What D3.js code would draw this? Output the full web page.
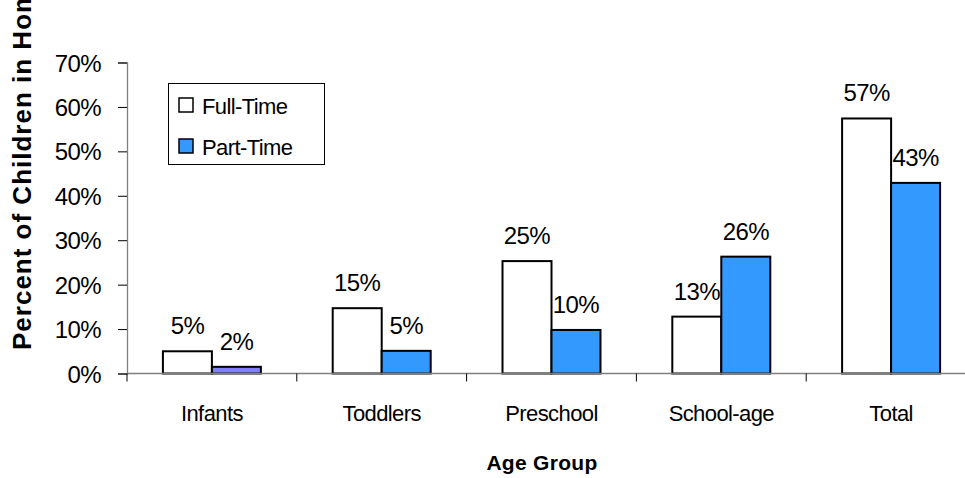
<!DOCTYPE html>
<html>
<head>
<meta charset="utf-8">
<script src="https://cdn.jsdelivr.net/npm/d3@7"></script>
<style>
  html, body { margin: 0; padding: 0; background: #fff; overflow: hidden; }
  svg { display: block; font-family: "Liberation Sans", Arial, sans-serif; }
</style>
</head>
<body>
<svg id="chart" width="965" height="478"></svg>
<script>
const categories = ["Infants", "Toddlers", "Preschool", "School-age", "Total"];
const seriesNames = ["Full-Time", "Part-Time"];
const fullTime = [5, 14.7, 25.3, 12.8, 57.4];
const partTime = [1.5, 5.1, 9.8, 26.3, 42.9];
const yTicks = [0, 10, 20, 30, 40, 50, 60, 70];
const yTitle = "Percent of Children in Home Care";
const xTitle = "Age Group";

const svg = d3.select("#chart");
const plotLeft = 127, plotRight = 976, plotTop = 62.5, plotBottom = 373.5;
const axisColor = "#808080";
const fills = { "Full-Time": "#ffffff", "Part-Time": "#3399ff" };
const specialFill = "#8080ff"; // infants part-time bar

const x = d3.scaleBand().domain(categories).range([plotLeft, plotRight]).paddingInner(0).paddingOuter(0);
const xs = d3.scaleBand().domain(seriesNames).range([0, x.bandwidth()]).paddingInner(0).paddingOuter(0.733);
const y = d3.scaleLinear().domain([0, 70]).range([plotBottom, plotTop]);

const rows = categories.map((c, i) => ({ cat: c, vals: [
  { s: "Full-Time", v: fullTime[i], i },
  { s: "Part-Time", v: partTime[i], i }
]}));

// Y axis
const yAxis = d3.axisLeft(y).tickValues(yTicks).tickSize(9).tickPadding(17)
  .tickFormat(d => d + "%");
const gy = svg.append("g").attr("transform", `translate(${plotLeft},0)`).call(yAxis);
gy.select(".domain").attr("stroke", axisColor).attr("stroke-width", 1.3);
gy.selectAll(".tick line").attr("stroke", "#000").attr("stroke-width", 1);
gy.selectAll(".tick text").attr("fill", "#000").style("font-size", "24px")
  .style("letter-spacing", "-0.6px").attr("dy", "0.36em");

// Bars
const groups = svg.append("g").selectAll("g").data(rows).join("g")
  .attr("transform", d => `translate(${x(d.cat)},0)`);
groups.selectAll("rect").data(d => d.vals).join("rect")
  .attr("x", d => xs(d.s))
  .attr("width", xs.bandwidth())
  .attr("y", d => y(d.v))
  .attr("height", d => y(0) - y(d.v))
  .attr("fill", d => (d.s === "Part-Time" && d.i === 0) ? specialFill : fills[d.s])
  .attr("stroke", "#000").attr("stroke-width", 2);

// X axis
const xTickPositions = d3.range(categories.length + 1).map(k => plotLeft + k * x.step());
svg.append("line").attr("x1", plotLeft).attr("x2", plotRight).attr("y1", plotBottom).attr("y2", plotBottom)
  .attr("stroke", axisColor).attr("stroke-width", 1.3);
svg.append("g").selectAll("line").data(xTickPositions).join("line")
  .attr("x1", d => d).attr("x2", d => d).attr("y1", plotBottom).attr("y2", plotBottom + 8)
  .attr("stroke", "#000").attr("stroke-width", 1);
svg.append("g").selectAll("text").data(categories).join("text")
  .attr("x", d => x(d) + x.bandwidth() / 2).attr("y", 421)
  .attr("text-anchor", "middle").style("font-size", "22px").style("letter-spacing", "-0.6px")
  .text(d => d);

// Data labels
groups.selectAll("text").data(d => d.vals).join("text")
  .attr("x", d => xs(d.s) + xs.bandwidth() / 2)
  .attr("y", d => y(d.v) - 17)
  .attr("text-anchor", "middle").style("font-size", "24px").style("letter-spacing", "-0.6px")
  .text(d => Math.round(d.v) + "%");

// Axis titles
svg.append("text").attr("x", 542).attr("y", 470).attr("text-anchor", "middle")
  .style("font-size", "21px").style("font-weight", "bold").style("letter-spacing", "0.3px")
  .text(xTitle);
svg.append("text").attr("transform", "translate(31,350) rotate(-90)")
  .attr("text-anchor", "start")
  .style("font-size", "26px").style("font-weight", "bold").style("letter-spacing", "1px")
  .text(yTitle);

// Legend
const lg = svg.append("g");
lg.append("rect").attr("x", 168.5).attr("y", 83.5).attr("width", 156).attr("height", 81)
  .attr("fill", "#fff").attr("stroke", "#000").attr("stroke-width", 1);
const legendRows = lg.selectAll("g").data(seriesNames).join("g")
  .attr("transform", (d, i) => `translate(179,${98 + i * 41})`);
legendRows.append("rect").attr("width", 14).attr("height", 14)
  .attr("fill", d => fills[d]).attr("stroke", "#000").attr("stroke-width", 1.5);
legendRows.append("text").attr("x", 23).attr("y", 16)
  .style("font-size", "22px").style("letter-spacing", "-0.6px").text(d => d);
</script>
</body>
</html>
